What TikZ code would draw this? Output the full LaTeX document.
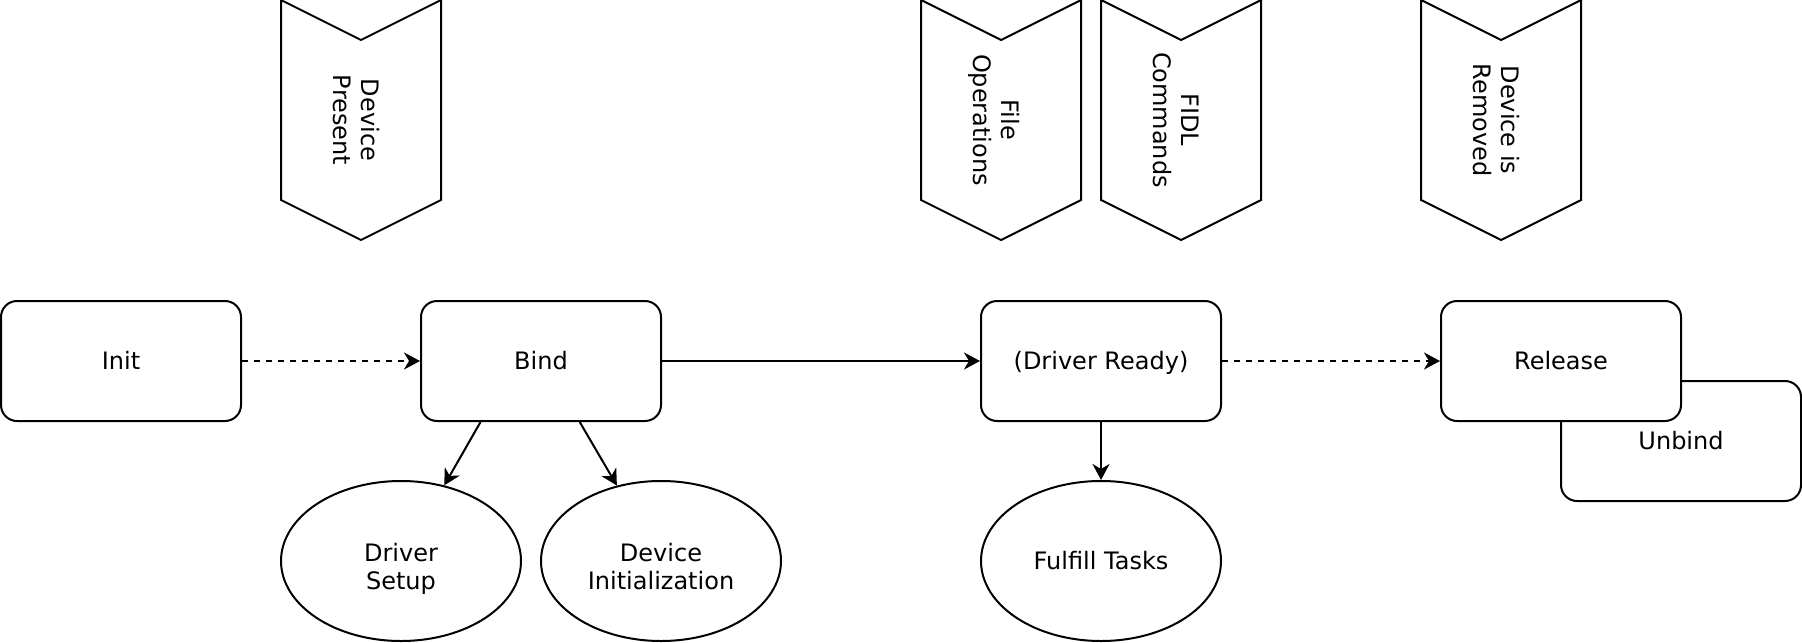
\documentclass[tikz,border=0pt]{standalone}
\usepackage{fontspec}
\setmainfont{DejaVu Sans}
\usetikzlibrary{positioning,arrows.meta,calc,shapes.geometric}
\tikzset{
  txt/.style   ={font=\fontsize{12}{14}\selectfont, align=center, inner sep=0pt},
  oneline/.style={text height=8.75pt, text depth=0pt},
  twoline/.style={text height=28pt, text depth=0pt},
  state/.style ={txt, oneline, rectangle, draw, fill=white, line width=1pt, rounded corners=8pt,
                 minimum width=120pt, minimum height=60pt},
  task/.style  ={txt, ellipse, draw, fill=white, line width=1pt,
                 minimum width=120pt, minimum height=80pt},
  chev/.style  ={draw, line width=1pt, line join=miter, fill=white},
  evlabel/.style={txt, twoline, rotate=-90},
  % solid and dashed transitions between the states
  flow/.style  ={draw, line width=1pt, -{Stealth[length=8pt, width=8.5pt, inset=2.5pt]}},
  weak/.style  ={flow, dash pattern=on 3pt off 3pt},
}
% one event marker: name, centre x (px), label
\newcommand{\eventchevron}[3]{%
  \draw[chev] (#2-80,0) -- (#2,40) -- (#2+80,0) -- (#2+80,200) -- (#2,240)
              -- (#2-80,200) -- cycle;
  \node[evlabel] (#1) at (#2,120) {#3};}
\def\eventlist{evPresent/361/{Device\\Present}, evFileOps/1001/{File\\Operations},
               evFidl/1181/{FIDL\\Commands}, evRemoved/1501/{Device is\\Removed}}

\begin{document}
\begin{tikzpicture}[x=0.5pt, y=-0.5pt]
  \useasboundingbox (0,0) rectangle (1802,642);
  \foreach \n/\x/\lab in \eventlist {\eventchevron{\n}{\x}{\lab}}

  \node[state] (init)    at (121,361)  {Init};
  \node[state] (bind)    at (541,361)  {Bind};
  \node[state] (ready)   at (1101,361) {(Driver Ready)};
  \node[state] (unbind)  at (1681,441) {Unbind};
  \node[state] (release) at (1561,361) {Release};

  \node[task, twoline] (drvsetup) at (401,561)  {Driver\\Setup};
  \node[task, twoline] (devinit)  at (661,561)  {Device\\Initialization};
  \node[task, oneline] (fulfill)  at (1101,561) {Fulfill Tasks};

  \draw[weak] (init) -- (bind);
  \draw[flow] (bind) -- (ready);
  \draw[weak] (ready) -- (release);
  \draw[flow] (ready) -- (fulfill);
  \draw[flow] ($(bind.south west)!0.25!(bind.south east)$) -- (drvsetup);
  \draw[flow] ($(bind.south west)!0.66!(bind.south east)$) -- (devinit);
\end{tikzpicture}
\end{document}
